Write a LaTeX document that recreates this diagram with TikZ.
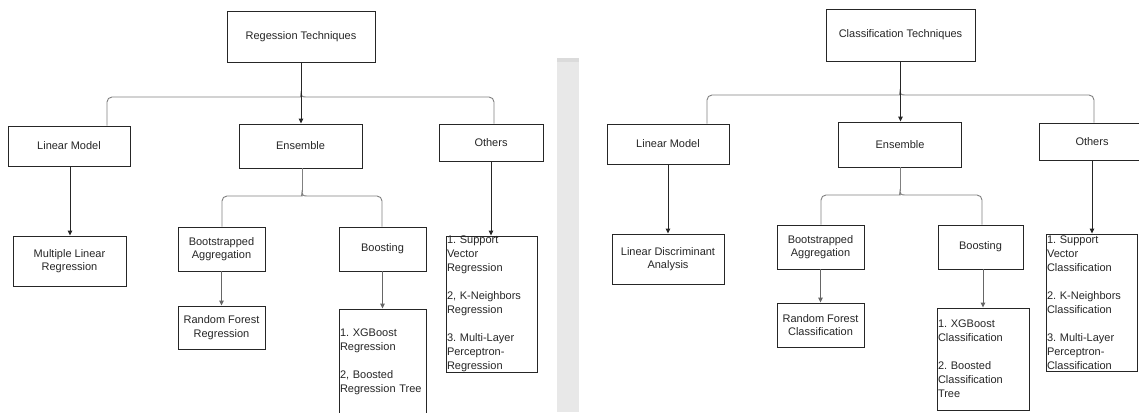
\documentclass[tikz,border=0pt]{standalone}
\usepackage{fontspec}
\setmainfont{Liberation Sans}
\usetikzlibrary{arrows.meta,calc}
\begin{document}
\begin{tikzpicture}[x=1pt,y=-1pt,
  bx/.style 2 args={draw=black!85, line width=0.9pt, inner sep=0pt, align=center,
    minimum width=#1, minimum height=#2,
    font=\fontsize{11}{13.5}\selectfont\frenchspacing, text=black!85},
  lst/.style={inner sep=0pt, align=left, text width=#1,
    font=\fontsize{11}{14}\selectfont\frenchspacing, text=black!85},
  brk/.style={draw=black!50, line width=0.9pt},
  arr/.style={draw=black!85, line width=0.9pt, -{Triangle[length=5pt,width=4.5pt]}},
  gline/.style={draw=black!60, line width=0.9pt, -{Triangle[length=5pt,width=4.5pt]}}]
\useasboundingbox (0,0) rectangle (1139,412);
\clip (0,0) rectangle (1139,412);
\fill[white] (0,0) rectangle (1139,412);
% separator strip between the two panels
\fill[black!9] (557,58) rectangle (579,412);
\fill[black!14] (557,58) rectangle (579,62);

% ===== Left panel: regression =====
\node[bx={148}{51}] (rootL) at (301,36.5) {Regession Techniques};
\node[bx={122}{40}] (lmL) at (69,146) {Linear Model};
\node[bx={123}{44}] (enL) at (300.5,146) {Ensemble};
\node[bx={104}{37}] (otL) at (491,142.5) {Others};
\node[bx={113}{50}] (mlr) at (69.5,261) {Multiple Linear\\Regression};
\node[bx={87}{44}] (bagL) at (221.5,249) {Bootstrapped\\Aggregation};
\node[bx={87}{43}] (rfL) at (221.5,327.5) {Random Forest\\Regression};
\node[bx={87}{44}] (bstL) at (382.5,249) {Boosting};
\node[bx={87}{105}] (bslL) at (382.5,361.5) {};
\node[lst=85pt] (bslLt) at (bslL.center) {1. XGBoost\\Regression\\[14pt]2, Boosted\\Regression Tree};
\node[bx={91}{136}] (oslL) at (491.5,304) {};
\node[lst=89pt] (oslLt) at (oslL.center) {1. Support\\Vector\\Regression\\[14pt]2, K-Neighbors\\Regression\\[14pt]3. Multi-Layer\\Perceptron-\\Regression};

\coordinate (tL) at (301,97);
\coordinate (tLl) at (107,97);
\coordinate (tLr) at (494,97);
\draw[brk] (lmL.north -| tLl) [rounded corners=5pt] -- (tLl) -- ($(tL)+(-5,0)$) [sharp corners]
  .. controls ($(tL)+(-1,0)$) and ($(tL)+(0,-1)$) .. ($(tL)+(0,-4)$)
  .. controls ($(tL)+(0,-1)$) and ($(tL)+(1,0)$) .. ($(tL)+(5,0)$)
  [rounded corners=5pt] -- (tLr) -- (otL.north -| tLr);
\draw[arr] (rootL.south) -- (rootL.south |- enL.north);

\coordinate (eL) at (302,196);
\coordinate (eLl) at (222,196);
\coordinate (eLr) at (382,196);
\draw[brk] (enL.south -| eL) -- ($(eL)+(0,-4)$);
\draw[brk] (bagL.north -| eLl) [rounded corners=5pt] -- (eLl) -- ($(eL)+(-5,0)$) [sharp corners]
  .. controls ($(eL)+(-1,0)$) and ($(eL)+(0,-1)$) .. ($(eL)+(0,-4)$)
  .. controls ($(eL)+(0,-1)$) and ($(eL)+(1,0)$) .. ($(eL)+(5,0)$)
  [rounded corners=5pt] -- (eLr) -- (bstL.north -| eLr);

\coordinate (xL1) at (70,0);
\draw[arr] (lmL.south -| xL1) -- (mlr.north -| xL1);
\draw[gline] (bagL.south) -- (rfL.north);
\draw[gline] (bstL.south) -- (bslL.north);
\draw[arr] (otL.south) -- (oslL.north -| otL.south);

% ===== Right panel: classification =====
\node[bx={149}{52}] (rootR) at (900.5,35) {Classification Techniques};
\node[bx={122}{40}] (lmR) at (668,144) {Linear Model};
\node[bx={123}{45}] (enR) at (900,144.5) {Ensemble};
\node[bx={106}{37}] (otR) at (1092,141.5) {Others};
\node[bx={112}{50}] (lda) at (668,259) {Linear Discriminant\\Analysis};
\node[bx={87}{44}] (bagR) at (820.5,247) {Bootstrapped\\Aggregation};
\node[bx={87}{44}] (rfR) at (820.5,325) {Random Forest\\Classification};
\node[bx={85}{44}] (bstR) at (980.5,247) {Boosting};
\node[bx={92}{102}] (bslR) at (983,359) {};
\node[lst=90pt] (bslRt) at (bslR.center) {1. XGBoost\\Classification\\[14pt]2. Boosted\\Classification\\Tree};
\node[bx={91}{137}] (oslR) at (1091.5,302.5) {};
\node[lst=89pt] (oslRt) at (oslR.center) {1. Support\\Vector\\Classification\\[14pt]2. K-Neighbors\\Classification\\[14pt]3. Multi-Layer\\Perceptron-\\Classification};

\coordinate (tR) at (900,95);
\coordinate (tRl) at (707,95);
\coordinate (tRr) at (1094,95);
\draw[brk] (lmR.north -| tRl) [rounded corners=5pt] -- (tRl) -- ($(tR)+(-5,0)$) [sharp corners]
  .. controls ($(tR)+(-1,0)$) and ($(tR)+(0,-1)$) .. ($(tR)+(0,-4)$)
  .. controls ($(tR)+(0,-1)$) and ($(tR)+(1,0)$) .. ($(tR)+(5,0)$)
  [rounded corners=5pt] -- (tRr) -- (otR.north -| tRr);
\draw[arr] (rootR.south) -- (rootR.south |- enR.north);

\coordinate (eR) at (900,195);
\coordinate (eRl) at (821,195);
\coordinate (eRr) at (982,195);
\draw[brk] (enR.south -| eR) -- ($(eR)+(0,-4)$);
\draw[brk] (bagR.north -| eRl) [rounded corners=5pt] -- (eRl) -- ($(eR)+(-5,0)$) [sharp corners]
  .. controls ($(eR)+(-1,0)$) and ($(eR)+(0,-1)$) .. ($(eR)+(0,-4)$)
  .. controls ($(eR)+(0,-1)$) and ($(eR)+(1,0)$) .. ($(eR)+(5,0)$)
  [rounded corners=5pt] -- (eRr) -- (bstR.north -| eRr);

\draw[arr] (lmR.south) -- (lda.north);
\draw[gline] (bagR.south) -- (rfR.north);
\coordinate (xR3) at (983,0);
\draw[gline] (bstR.south -| xR3) -- (bslR.north -| xR3);
\draw[arr] (otR.south) -- (oslR.north -| otR.south);
\end{tikzpicture}
\end{document}
